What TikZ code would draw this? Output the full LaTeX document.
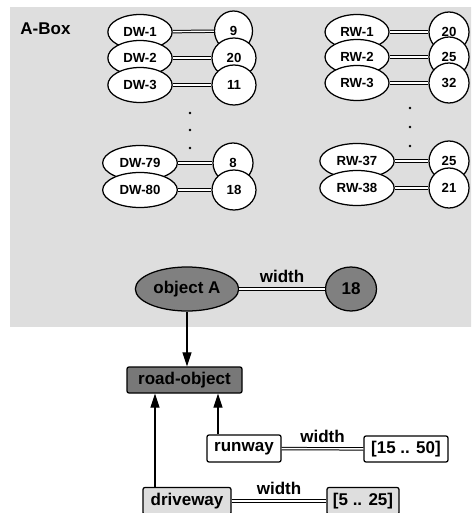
\documentclass[tikz,border=0pt]{standalone}
\usepackage{fontspec}
\setmainfont{Liberation Sans}
\usetikzlibrary{shapes.geometric,arrows.meta}
\definecolor{boxgray}{HTML}{DEDEDE}
\definecolor{objgray}{HTML}{808080}
\definecolor{roadgray}{HTML}{787878}
\begin{document}
\begin{tikzpicture}[x=1pt,y=-1pt,
  sm/.style={font=\fontsize{13.2}{15}\selectfont\bfseries},
  lg/.style={font=\fontsize{17}{19}\selectfont\bfseries},
  keyn/.style={ellipse, draw, line width=1.25pt, fill=white, sm, inner xsep=6pt, inner ysep=0pt, minimum height=35pt},
  valn/.style={ellipse, draw, line width=1.25pt, fill=white, sm, inner sep=0pt, minimum height=40pt, minimum width=#1},
  valn/.default=44pt,
  rel/.style={draw=black, line width=1pt, double=white, double distance=1.4pt},
  boxn/.style={rectangle, draw, line width=1.25pt, rounded corners=2pt, lg, inner sep=0pt, minimum height=27pt},
  lbl/.style={lg, above=6pt, inner sep=0pt, midway},
  isa/.style={line width=1.2pt, -{Triangle[length=14pt,width=9pt]}},
  dotn/.style={circle, fill=black, inner sep=0pt, minimum size=2.6pt}
]
\useasboundingbox (0,0) rectangle (471,513);
\clip (0,0) rectangle (471,513);
\fill[boxgray] (10,7) rectangle (480,327);
\node[lg, anchor=center] (abox) at (45.5,28.5) {A-Box};

% left column
\node[keyn] (dw1) at (140,32) {DW-1};
\node[keyn] (dw2) at (140,58) {DW-2};
\node[keyn] (dw3) at (140,85) {DW-3};
\node[keyn] (dw79) at (140,163) {DW-79};
\node[keyn] (dw80) at (140,190) {DW-80};
\node[valn=38pt] (v1) at (233.5,31) {9};
\node[valn] (v2) at (234,58) {20};
\node[valn] (v3) at (234,85) {11};
\node[valn=40pt] (v79) at (233,163) {8};
\node[valn] (v80) at (234,190) {18};
\draw[rel] (dw1) -- (v1);
\draw[rel] (dw2) -- (v2);
\draw[rel] (dw3) -- (v3);
\draw[rel] (dw79) -- (v79);
\draw[rel] (dw80) -- (v80);
\node[dotn] (d1) at (190,113) {};
\node[dotn] (d2) at (190,130) {};
\node[dotn] (d3) at (190,148) {};

% right column
\node[keyn] (rw1) at (357,32) {RW-1};
\node[keyn] (rw2) at (357,57) {RW-2};
\node[keyn] (rw3) at (357,83) {RW-3};
\node[keyn] (rw37) at (357,161) {RW-37};
\node[keyn] (rw38) at (357,188) {RW-38};
\node[valn=40pt] (u1) at (449,32) {20};
\node[valn=40pt] (u2) at (449,57) {25};
\node[valn=40pt] (u3) at (449,83) {32};
\node[valn=40pt] (u37) at (449,161) {25};
\node[valn=40pt] (u38) at (449,188) {21};
\draw[rel] (rw1) -- (u1);
\draw[rel] (rw2) -- (u2);
\draw[rel] (rw3) -- (u3);
\draw[rel] (rw37) -- (u37);
\draw[rel] (rw38) -- (u38);
\node[dotn] (e1) at (410,108) {};
\node[dotn] (e2) at (410,127) {};
\node[dotn] (e3) at (410,146) {};

% object A
\node[ellipse, draw, line width=1.25pt, fill=objgray, lg, inner xsep=3pt, inner ysep=0pt, minimum height=44pt] (objA) at (187,289) {object A};
\node[ellipse, draw, line width=1.25pt, fill=objgray, lg, inner sep=0pt, minimum width=51pt, minimum height=44pt] (objv) at (351,289) {18};
\draw[rel] (objA) -- (objv) node[lbl] {width};

% lower part
\node[boxn, fill=roadgray, minimum width=115pt, minimum height=26pt] (road) at (184.5,380) {road-object};
\node[boxn, fill=white, minimum width=74pt] (runway) at (244,448.5) {runway};
\node[boxn, fill=white, minimum width=84pt, minimum height=26pt] (rrange) at (406,449) {[15 .. 50]};
\node[boxn, fill=boxgray, minimum width=88pt] (drive) at (187,501) {driveway};
\node[boxn, fill=boxgray, minimum width=72pt] (drange) at (363,501) {[5 .. 25]};

\draw[isa] (objA.south) -- (objA.south |- road.north);
\draw[isa] ([xshift=-26pt]runway.north) -- ([xshift=-26pt]runway.north |- road.south);
\draw[isa] ([xshift=-32pt]drive.north) -- ([xshift=-32pt]drive.north |- road.south);
\draw[rel] (runway) -- (rrange) node[lbl] {width};
\draw[rel] (drive) -- (drange) node[lbl] {width};
\end{tikzpicture}
\end{document}
